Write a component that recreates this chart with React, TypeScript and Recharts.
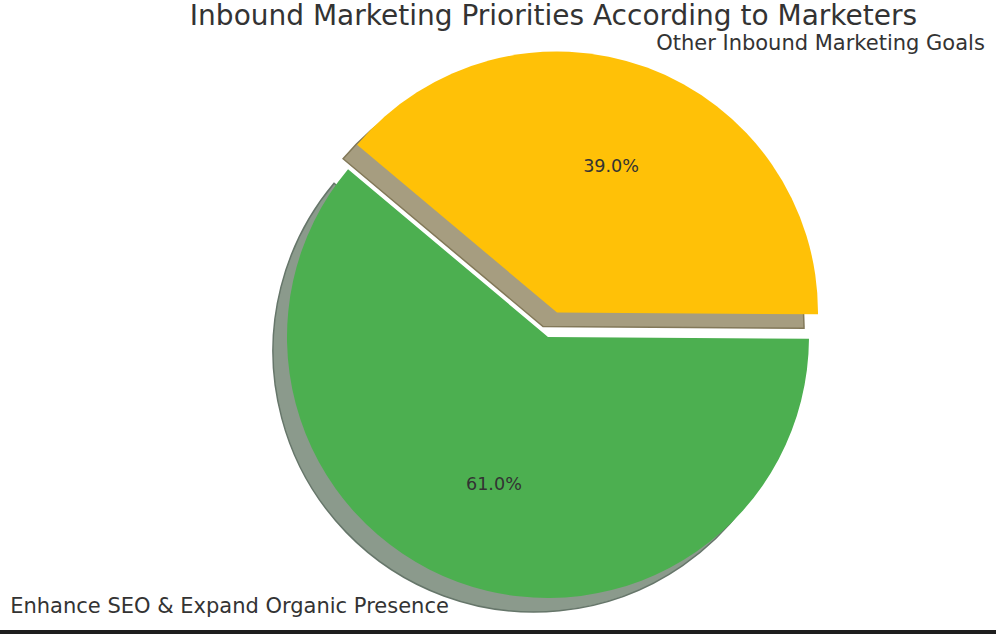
import React from 'react';
import { PieChart, Pie, Cell } from 'recharts';

const categories = ['Enhance SEO & Expand Organic Presence', 'Other Inbound Marketing Goals'];
const shares = [61, 39];
const sliceColors = ['#4CAF50', '#FFC107'];
const shadowColors = ['#8b9a8c', '#a69d80'];
const shadowEdges = ['#66766a', '#827858'];

const data = categories.map((name, i) => ({ name, value: shares[i] }));

const RAD = Math.PI / 180;
const RADIUS = 261;
const CX = 548;
const CY = 337;
const SHADOW = 14;
// explode the second slice by 0.1 * radius along its mid angle
const EXPLODE = [0, 0.1];

const midAngleOf = (idx: number) => {
  const total = shares.reduce((a, b) => a + b, 0);
  let start = 140;
  for (let i = 0; i < idx; i++) start += (shares[i] / total) * 360;
  return start + (shares[idx] / total) * 180;
};

const centerOf = (idx: number) => {
  const m = midAngleOf(idx);
  const d = EXPLODE[idx] * RADIUS;
  return { x: CX + d * Math.cos(m * RAD), y: CY - d * Math.sin(m * RAD) };
};

const makeLabel = (visible: number) => (props: any) => {
  const { cx, cy, midAngle, outerRadius, percent, index } = props;
  if (index !== visible) return null;
  const cos = Math.cos(-midAngle * RAD);
  const sin = Math.sin(-midAngle * RAD);
  const ox = cx + outerRadius * 1.1 * cos;
  const oy = cy + outerRadius * 1.1 * sin;
  const px = cx + outerRadius * 0.6 * cos;
  const py = cy + outerRadius * 0.6 * sin;
  return (
    <g>
      <text x={ox} y={oy} textAnchor={ox < cx ? 'end' : 'start'} dominantBaseline="central"
        fontSize={21} fill="#333333" fontFamily="DejaVu Sans">
        {categories[index]}
      </text>
      <text x={px} y={py} textAnchor="middle" dominantBaseline="central"
        fontSize={17.6} fill="#333333" fontFamily="DejaVu Sans">
        {`${(percent * 100).toFixed(1)}%`}
      </text>
    </g>
  );
};

export default function App() {
  return (
    <div style={{ position: 'relative', width: 996, height: 634, background: '#fff', fontFamily: 'DejaVu Sans' }}>
      <style>{'body{margin:0}'}</style>
      <div style={{ position: 'absolute', left: 0, top: 0, width: 1107, textAlign: 'center', fontSize: 28, lineHeight: '31px', color: '#333333' }}>
        Inbound Marketing Priorities According to Marketers
      </div>
      <PieChart width={996} height={630} margin={{ top: 0, right: 0, bottom: 0, left: 0 }}>
        {data.map((_, vi) => {
          const c = centerOf(vi);
          return (
            <Pie key={`shadow-${vi}`} data={data} dataKey="value" nameKey="name"
              cx={c.x - SHADOW} cy={c.y + SHADOW} outerRadius={RADIUS}
              startAngle={140} endAngle={500} isAnimationActive={false} labelLine={false}>
              {data.map((d, i) => (
                <Cell key={d.name} fill={i === vi ? shadowColors[i] : 'none'}
                  stroke={i === vi ? shadowEdges[i] : 'none'} strokeWidth={1.5} />
              ))}
            </Pie>
          );
        })}
        {data.map((_, vi) => {
          const c = centerOf(vi);
          return (
            <Pie key={`slice-${vi}`} data={data} dataKey="value" nameKey="name"
              cx={c.x} cy={c.y} outerRadius={RADIUS}
              startAngle={140} endAngle={500} isAnimationActive={false}
              labelLine={false} label={makeLabel(vi)}>
              {data.map((d, i) => (
                <Cell key={d.name} fill={i === vi ? sliceColors[i] : 'none'} stroke="none" />
              ))}
            </Pie>
          );
        })}
      </PieChart>
      <div style={{ position: 'absolute', left: 0, top: 630, width: 996, height: 4, background: '#1e1e1e' }} />
    </div>
  );
}
